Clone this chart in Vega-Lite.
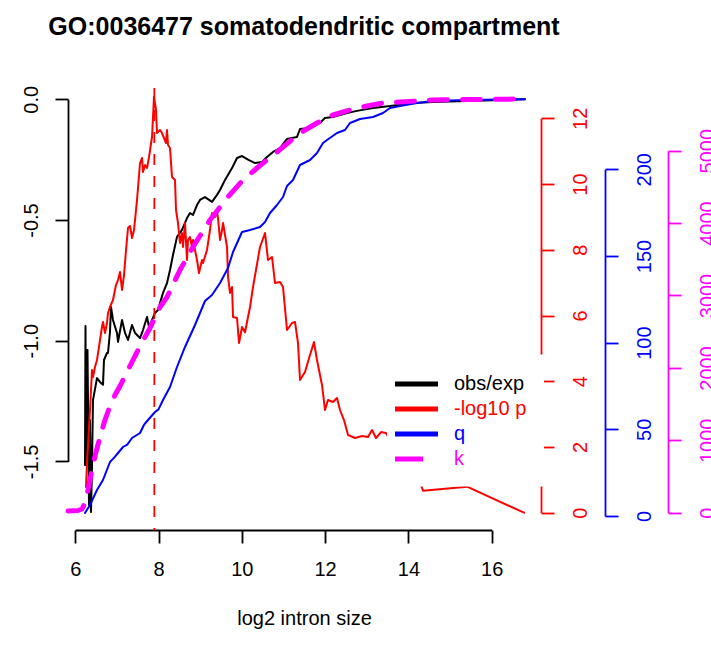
{
  "$schema": "https://vega.github.io/schema/vega-lite/v6.json",
  "width": 472,
  "height": 442,
  "autosize": {"type": "none"},
  "padding": {"left": 68, "top": 88, "right": 171, "bottom": 117},
  "background": "white",
  "config": {
    "view": {"stroke": null},
    "font": "Liberation Sans",
    "axis": {"grid": false, "labelFontSize": 20, "labelFont": "Liberation Sans", "tickSize": 13, "tickWidth": 1.8, "domainWidth": 1.8, "labelOverlap": false, "labelFlush": false, "titleFont": "Liberation Sans"}
  },
  "title": {"text": "GO:0036477 somatodendritic compartment", "fontSize": 25, "fontWeight": "bold", "font": "Liberation Sans", "anchor": "middle", "baseline": "alphabetic", "offset": 25, "color": "black"},
  "datasets": {
    "black": [
      {"x": 6.235, "y": -1.515}, {"x": 6.247, "y": -0.939}, {"x": 6.259, "y": -1.515}, {"x": 6.295, "y": -1.039},
      {"x": 6.331, "y": -1.681}, {"x": 6.355, "y": -1.329}, {"x": 6.379, "y": -1.71}, {"x": 6.403, "y": -1.523},
      {"x": 6.427, "y": -1.246}, {"x": 6.523, "y": -1.155}, {"x": 6.595, "y": -1.171}, {"x": 6.667, "y": -1.183},
      {"x": 6.691, "y": -1.08}, {"x": 6.763, "y": -1.051}, {"x": 6.787, "y": -1.051}, {"x": 6.835, "y": -0.964},
      {"x": 6.859, "y": -0.86}, {"x": 6.907, "y": -0.914}, {"x": 7.003, "y": -0.968}, {"x": 7.028, "y": -1.005},
      {"x": 7.124, "y": -0.914}, {"x": 7.196, "y": -0.968}, {"x": 7.268, "y": -0.997}, {"x": 7.364, "y": -0.935},
      {"x": 7.436, "y": -0.968}, {"x": 7.556, "y": -0.989}, {"x": 7.628, "y": -0.956}, {"x": 7.724, "y": -0.902},
      {"x": 7.772, "y": -0.943}, {"x": 7.844, "y": -0.914}, {"x": 7.916, "y": -0.885}, {"x": 7.988, "y": -0.873},
      {"x": 8.036, "y": -0.844}, {"x": 8.108, "y": -0.802}, {"x": 8.204, "y": -0.761}, {"x": 8.276, "y": -0.707},
      {"x": 8.348, "y": -0.645}, {"x": 8.444, "y": -0.57}, {"x": 8.564, "y": -0.541}, {"x": 8.684, "y": -0.492},
      {"x": 8.756, "y": -0.471}, {"x": 8.828, "y": -0.479}, {"x": 8.924, "y": -0.438}, {"x": 8.996, "y": -0.417},
      {"x": 9.116, "y": -0.405}, {"x": 9.284, "y": -0.425}, {"x": 9.405, "y": -0.396}, {"x": 9.477, "y": -0.376},
      {"x": 9.597, "y": -0.334}, {"x": 9.765, "y": -0.285}, {"x": 9.885, "y": -0.243}, {"x": 10.005, "y": -0.235},
      {"x": 10.149, "y": -0.25}, {"x": 10.317, "y": -0.264}, {"x": 10.485, "y": -0.26}, {"x": 10.605, "y": -0.239},
      {"x": 10.749, "y": -0.218}, {"x": 10.917, "y": -0.202}, {"x": 11.085, "y": -0.164}, {"x": 11.325, "y": -0.156},
      {"x": 11.397, "y": -0.123}, {"x": 11.637, "y": -0.119}, {"x": 11.877, "y": -0.098}, {"x": 11.997, "y": -0.077},
      {"x": 12.189, "y": -0.073}, {"x": 12.525, "y": -0.057}, {"x": 12.765, "y": -0.048}, {"x": 13.15, "y": -0.036},
      {"x": 13.558, "y": -0.028}, {"x": 14.11, "y": -0.015}, {"x": 14.59, "y": -0.011}, {"x": 15.406, "y": -0.007},
      {"x": 16.198, "y": -0.003}, {"x": 16.798, "y": 0.0}
    ],
    "red": [
      {"x": 6.259, "y": 0.782}, {"x": 6.283, "y": 1.512}, {"x": 6.355, "y": 3.125}, {"x": 6.403, "y": 4.342},
      {"x": 6.427, "y": 4.129}, {"x": 6.475, "y": 4.433}, {"x": 6.523, "y": 4.646}, {"x": 6.595, "y": 5.254},
      {"x": 6.643, "y": 5.65}, {"x": 6.667, "y": 5.802}, {"x": 6.715, "y": 5.467}, {"x": 6.763, "y": 5.772},
      {"x": 6.787, "y": 6.076}, {"x": 6.835, "y": 6.259}, {"x": 6.907, "y": 6.472}, {"x": 6.979, "y": 6.928},
      {"x": 7.028, "y": 7.08}, {"x": 7.076, "y": 7.324}, {"x": 7.124, "y": 6.776}, {"x": 7.172, "y": 7.232},
      {"x": 7.22, "y": 7.993}, {"x": 7.268, "y": 8.662}, {"x": 7.316, "y": 8.723}, {"x": 7.364, "y": 8.358},
      {"x": 7.412, "y": 8.601}, {"x": 7.484, "y": 9.514}, {"x": 7.556, "y": 10.64}, {"x": 7.604, "y": 10.792},
      {"x": 7.628, "y": 10.366}, {"x": 7.676, "y": 10.579}, {"x": 7.724, "y": 10.488}, {"x": 7.772, "y": 10.822},
      {"x": 7.844, "y": 11.431}, {"x": 7.868, "y": 12.039}, {"x": 7.892, "y": 12.648}, {"x": 7.94, "y": 12.252},
      {"x": 7.964, "y": 11.552}, {"x": 8.036, "y": 11.644}, {"x": 8.084, "y": 11.552}, {"x": 8.132, "y": 11.4},
      {"x": 8.18, "y": 11.248}, {"x": 8.204, "y": 11.644}, {"x": 8.228, "y": 11.187}, {"x": 8.276, "y": 11.096},
      {"x": 8.324, "y": 10.214}, {"x": 8.396, "y": 10.123}, {"x": 8.42, "y": 9.21}, {"x": 8.468, "y": 8.815},
      {"x": 8.516, "y": 8.206}, {"x": 8.564, "y": 8.51}, {"x": 8.588, "y": 8.084}, {"x": 8.636, "y": 8.815},
      {"x": 8.684, "y": 7.689}, {"x": 8.708, "y": 8.297}, {"x": 8.756, "y": 8.389}, {"x": 8.804, "y": 8.084},
      {"x": 8.828, "y": 8.297}, {"x": 8.924, "y": 7.689}, {"x": 8.972, "y": 7.293}, {"x": 9.044, "y": 7.689},
      {"x": 9.068, "y": 7.597}, {"x": 9.164, "y": 7.993}, {"x": 9.236, "y": 8.601}, {"x": 9.284, "y": 9.119},
      {"x": 9.357, "y": 8.997}, {"x": 9.405, "y": 9.149}, {"x": 9.429, "y": 8.967}, {"x": 9.477, "y": 8.297},
      {"x": 9.525, "y": 8.601}, {"x": 9.549, "y": 8.815}, {"x": 9.597, "y": 8.449}, {"x": 9.645, "y": 8.084},
      {"x": 9.669, "y": 7.172}, {"x": 9.717, "y": 6.685}, {"x": 9.765, "y": 6.868}, {"x": 9.789, "y": 5.955},
      {"x": 9.885, "y": 5.925}, {"x": 9.933, "y": 5.164}, {"x": 10.005, "y": 5.65}, {"x": 10.077, "y": 5.49},
      {"x": 10.197, "y": 6.259}, {"x": 10.269, "y": 6.868}, {"x": 10.437, "y": 8.084}, {"x": 10.557, "y": 8.51},
      {"x": 10.629, "y": 7.689}, {"x": 10.725, "y": 7.78}, {"x": 10.797, "y": 6.989}, {"x": 10.917, "y": 7.02},
      {"x": 10.989, "y": 6.868}, {"x": 11.085, "y": 5.559}, {"x": 11.205, "y": 5.772}, {"x": 11.277, "y": 5.802},
      {"x": 11.349, "y": 5.164}, {"x": 11.397, "y": 4.038}, {"x": 11.517, "y": 4.281}, {"x": 11.637, "y": 4.798},
      {"x": 11.733, "y": 5.194}, {"x": 11.805, "y": 4.646}, {"x": 11.877, "y": 4.19}, {"x": 11.925, "y": 3.886},
      {"x": 11.997, "y": 3.125}, {"x": 12.069, "y": 3.43}, {"x": 12.189, "y": 3.368}, {"x": 12.285, "y": 3.49},
      {"x": 12.357, "y": 3.125}, {"x": 12.453, "y": 2.82}, {"x": 12.55, "y": 2.364}, {"x": 12.718, "y": 2.273},
      {"x": 12.886, "y": 2.334}, {"x": 13.03, "y": 2.303}, {"x": 13.126, "y": 2.516}, {"x": 13.222, "y": 2.273},
      {"x": 13.342, "y": 2.455}, {"x": 13.462, "y": 2.425}, {"x": 13.558, "y": 2.212}, {"x": 13.63, "y": 1.969},
      {"x": 13.918, "y": 1.634}, {"x": 14.158, "y": 1.116}, {"x": 14.302, "y": 0.843}, {"x": 14.35, "y": 0.669},
      {"x": 15.407, "y": 0.791}, {"x": 16.775, "y": 0.0}
    ],
    "vline": [{"x": 7.9}],
    "blue": [
      {"x": 6.235, "y": 1.731}, {"x": 6.355, "y": 6.346}, {"x": 6.523, "y": 14.998}, {"x": 6.667, "y": 20.767},
      {"x": 6.835, "y": 31.151}, {"x": 6.93, "y": 33.5}, {"x": 7.028, "y": 36.343}, {"x": 7.148, "y": 39.804},
      {"x": 7.25, "y": 41.2}, {"x": 7.364, "y": 44.996}, {"x": 7.556, "y": 47.88}, {"x": 7.65, "y": 52.5},
      {"x": 7.748, "y": 55.38}, {"x": 7.916, "y": 59.995}, {"x": 8.0, "y": 61.5}, {"x": 8.108, "y": 66.917},
      {"x": 8.276, "y": 74.416}, {"x": 8.444, "y": 85.953}, {"x": 8.636, "y": 97.491}, {"x": 8.876, "y": 110.182},
      {"x": 9.116, "y": 124.026}, {"x": 9.284, "y": 127.488}, {"x": 9.477, "y": 134.41}, {"x": 9.669, "y": 143.063},
      {"x": 9.789, "y": 152.293}, {"x": 10.005, "y": 163.83}, {"x": 10.197, "y": 164.984}, {"x": 10.437, "y": 166.715},
      {"x": 10.557, "y": 169.599}, {"x": 10.677, "y": 174.791}, {"x": 10.845, "y": 179.406}, {"x": 10.989, "y": 184.021},
      {"x": 11.085, "y": 190.366}, {"x": 11.229, "y": 193.828}, {"x": 11.397, "y": 202.481}, {"x": 11.637, "y": 205.365},
      {"x": 11.805, "y": 209.403}, {"x": 11.949, "y": 215.172}, {"x": 12.045, "y": 216.902}, {"x": 12.285, "y": 220.94},
      {"x": 12.477, "y": 222.671}, {"x": 12.597, "y": 226.709}, {"x": 12.838, "y": 229.017}, {"x": 13.15, "y": 230.17},
      {"x": 13.39, "y": 232.478}, {"x": 13.558, "y": 235.362}, {"x": 13.798, "y": 236.516}, {"x": 14.206, "y": 238.246},
      {"x": 14.59, "y": 239.4}, {"x": 15.406, "y": 239.977}, {"x": 16.198, "y": 240.265}, {"x": 16.798, "y": 240.381}
    ],
    "magenta": [
      {"x": 5.827, "y": 23.5}, {"x": 6.067, "y": 30.4}, {"x": 6.163, "y": 51.1}, {"x": 6.235, "y": 134.0},
      {"x": 6.307, "y": 313.5}, {"x": 6.403, "y": 589.8}, {"x": 6.499, "y": 838.4}, {"x": 6.595, "y": 1045.6},
      {"x": 6.715, "y": 1280.4}, {"x": 6.835, "y": 1473.8}, {"x": 6.955, "y": 1625.7}, {"x": 7.076, "y": 1750.0},
      {"x": 7.316, "y": 2026.2}, {"x": 7.556, "y": 2302.5}, {"x": 7.796, "y": 2551.1}, {"x": 8.036, "y": 2841.2},
      {"x": 8.204, "y": 2979.3}, {"x": 8.516, "y": 3352.2}, {"x": 8.828, "y": 3669.9}, {"x": 9.236, "y": 4042.8},
      {"x": 9.645, "y": 4346.7}, {"x": 10.029, "y": 4595.3}, {"x": 10.365, "y": 4761.0}, {"x": 10.845, "y": 4982.0},
      {"x": 11.397, "y": 5244.5}, {"x": 11.805, "y": 5382.6}, {"x": 12.189, "y": 5493.1}, {"x": 12.597, "y": 5562.2},
      {"x": 13.006, "y": 5617.4}, {"x": 13.39, "y": 5658.8}, {"x": 13.798, "y": 5672.7}, {"x": 14.59, "y": 5700.3},
      {"x": 15.406, "y": 5707.2}, {"x": 16.798, "y": 5714.1}
    ]
  },
  "encoding": {
    "x": {
      "field": "x", "type": "quantitative",
      "scale": {"domain": [5.827, 17.159], "nice": false, "zero": false},
      "axis": {
        "values": [6, 8, 10, 12, 14, 16], "title": "log2 intron size", "titleFontSize": 20, "titleFontWeight": "normal",
        "titleColor": "black", "titleY": 94, "titleBaseline": "alphabetic", "labelPadding": 16, "labelColor": "black",
        "domainColor": "black", "tickColor": "black", "labelAngle": 0, "labelAlign": "center", "labelBaseline": "top",
        "domainDash": [416.5, 2000], "domainDashOffset": 2409.3
      }
    }
  },
  "layer": [
    {
      "data": {"name": "black"},
      "mark": {"type": "line", "strokeWidth": 2, "strokeJoin": "round", "strokeCap": "round"},
      "encoding": {
        "y": {
          "field": "y", "type": "quantitative",
          "scale": {"domain": [-1.7842, 0.0468], "nice": false, "zero": false},
          "axis": {
            "orient": "left", "values": [-1.5, -1, -0.5, 0], "title": null,
            "labelExpr": "replace(format(datum.value, '.1f'), '\u2212', '-')",
            "labelAngle": -90, "labelAlign": "center", "labelBaseline": "alphabetic", "labelPadding": 18,
            "domainColor": "black", "tickColor": "black", "labelColor": "black",
            "domainDash": [362.1, 2000], "domainDashOffset": 2293.5
          }
        },
        "color": {
          "datum": "obs/exp", "type": "nominal",
          "scale": {"domain": ["obs/exp", "-log10 p", "q", "k"], "range": ["#000000", "#FF0000", "#0000FF", "#FF00FF"]},
          "legend": {
            "title": null, "orient": "none", "legendX": 319, "legendY": 266.5, "direction": "vertical",
            "padding": 17, "fillColor": "white", "strokeColor": null, "rowPadding": 2,
            "symbolType": "M-2.15,0H2.15", "symbolSize": 400, "symbolStrokeWidth": 5,
            "labelFontSize": 20, "labelFont": "Liberation Sans", "labelOffset": 25, "labelLimit": 300,
            "encode": {
              "symbols": {"update": {"strokeWidth": {"value": 5}, "fill": {"value": "transparent"}, "strokeDash": {"signal": "datum.value === 'k' ? [28, 40] : [1, 0]"}}},
              "labels": {"update": {"fill": {"scale": "color", "field": "value"}}}
            }
          }
        }
      }
    },
    {
      "data": {"name": "red"},
      "mark": {"type": "line", "strokeWidth": 2, "strokeJoin": "round", "strokeCap": "round"},
      "encoding": {
        "y": {
          "field": "y", "type": "quantitative",
          "scale": {"domain": [-0.526, 12.922], "nice": false, "zero": false},
          "axis": {
            "orient": "right", "offset": 1, "values": [0, 2, 4, 6, 8, 10, 12], "title": null,
            "labelAngle": -90, "labelAlign": "center", "labelBaseline": "top", "labelPadding": 16,
            "domainColor": "#FF0000", "tickColor": "#FF0000", "labelColor": "#FF0000",
            "domainDash": [394.4, 2000], "domainDashOffset": 2377.1
          }
        },
        "color": {"datum": "-log10 p", "type": "nominal", "scale": {"domain": ["obs/exp", "-log10 p", "q", "k"], "range": ["#000000", "#FF0000", "#0000FF", "#FF00FF"]}}
      }
    },
    {
      "data": {"name": "vline"},
      "mark": {"type": "rule", "color": "#FF0000", "strokeWidth": 1.8, "strokeDash": [11, 11]},
      "encoding": {}
    },
    {
      "data": {"name": "blue"},
      "mark": {"type": "line", "strokeWidth": 2, "strokeJoin": "round", "strokeCap": "round"},
      "encoding": {
        "y": {
          "field": "y", "type": "quantitative",
          "scale": {"domain": [-8.08, 246.9], "nice": false, "zero": false},
          "axis": {
            "orient": "right", "offset": 65, "values": [0, 50, 100, 150, 200], "title": null,
            "labelAngle": -90, "labelAlign": "center", "labelBaseline": "top", "labelPadding": 16,
            "domainColor": "#0000FF", "tickColor": "#0000FF", "labelColor": "#0000FF",
            "domainDash": [346.7, 2000], "domainDashOffset": 2332.7
          }
        },
        "color": {"datum": "q", "type": "nominal", "scale": {"domain": ["obs/exp", "-log10 p", "q", "k"], "range": ["#000000", "#FF0000", "#0000FF", "#FF00FF"]}}
      }
    },
    {
      "data": {"name": "magenta"},
      "mark": {"type": "line", "strokeWidth": 5, "strokeDash": [18, 15], "strokeCap": "round", "strokeJoin": "round"},
      "encoding": {
        "y": {
          "field": "y", "type": "quantitative",
          "scale": {"domain": [-239, 5866], "nice": false, "zero": false},
          "axis": {
            "orient": "right", "offset": 128, "values": [0, 1000, 2000, 3000, 4000, 5000], "format": "d", "title": null,
            "labelAngle": -90, "labelAlign": "center", "labelBaseline": "top", "labelPadding": 16,
            "domainColor": "#FF00FF", "tickColor": "#FF00FF", "labelColor": "#FF00FF",
            "domainDash": [362.0, 2000], "domainDashOffset": 2344.7
          }
        },
        "color": {"datum": "k", "type": "nominal", "scale": {"domain": ["obs/exp", "-log10 p", "q", "k"], "range": ["#000000", "#FF0000", "#0000FF", "#FF00FF"]}}
      }
    }
  ],
  "resolve": {"scale": {"y": "independent"}, "axis": {"y": "independent"}}
}
